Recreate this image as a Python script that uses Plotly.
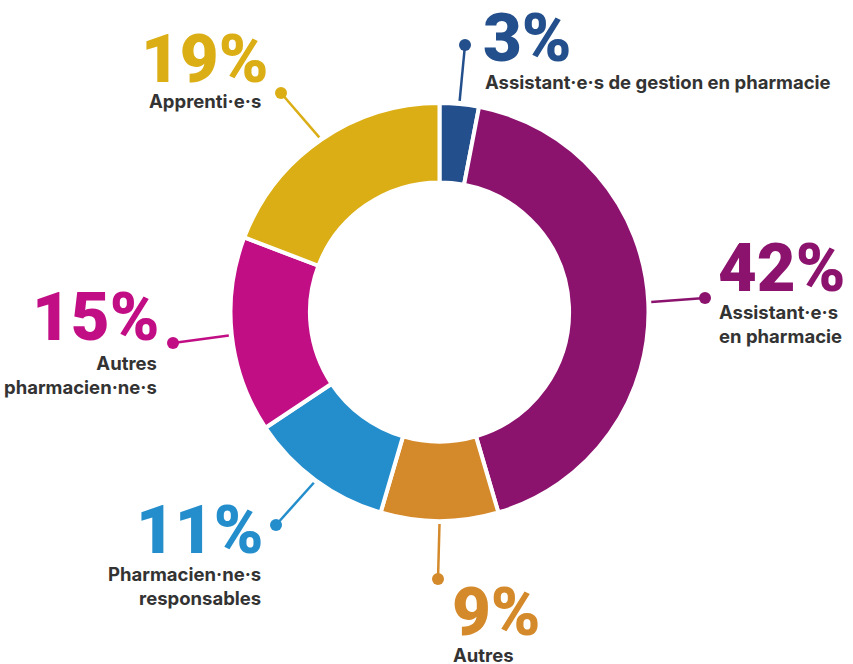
import math
import plotly.graph_objects as go

# data (clockwise from 12 o'clock)
categories = [
    "Assistant·e·s de gestion en pharmacie",
    "Assistant·e·s<br>en pharmacie",
    "Autres",
    "Pharmacien·ne·s<br>responsables",
    "Autres<br>pharmacien·ne·s",
    "Apprenti·e·s",
]
shares = [3, 42, 9, 11, 15, 19]
colors = ["#234F8C", "#8B136E", "#D4892A", "#248ECC", "#C10E84", "#DBAE15"]

W, H = 853, 664
CX, CY, R = 439.5, 312, 209

# label layout (pixels): dot end of leader line, percent text anchor, label anchor
label_layout = [
    dict(dot=(465, 45), pct=(481, 79, "left", "bottom"), lab=(483, 82, "left", "middle"), align="left"),
    dict(dot=(705, 298), pct=(716, 309, "left", "bottom"), lab=(717, 324, "left", "middle"), align="left"),
    dict(dot=(438, 579), pct=(450, 653, "left", "bottom"), lab=(451, 655, "left", "middle"), align="left"),
    dict(dot=(276, 525), pct=(265, 571, "right", "bottom"), lab=(263, 586, "right", "middle"), align="right"),
    dict(dot=(173, 343), pct=(161, 358, "right", "bottom"), lab=(159, 375, "right", "middle"), align="right"),
    dict(dot=(281, 93), pct=(270, 100, "right", "bottom"), lab=(263, 101, "right", "middle"), align="right"),
]


def px(x, y):
    return x / W, 1 - y / H


fig = go.Figure(go.Pie(
    values=shares,
    labels=categories,
    marker=dict(colors=colors, line=dict(color="white", width=4)),
    hole=0.62,
    sort=False,
    direction="clockwise",
    rotation=0,
    textinfo="none",
    hoverinfo="skip",
    showlegend=False,
    domain=dict(x=[(CX - R) / W, (CX + R) / W], y=[(H - CY - R) / H, (H - CY + R) / H]),
))

total = sum(shares)
cum = 0
shapes = []
annotations = []
for val, name, col, lay in zip(shares, categories, colors, label_layout):
    mid = (cum + val / 2) / total * 2 * math.pi
    cum += val
    sx = CX + (R + 3) * math.sin(mid)
    sy = CY - (R + 3) * math.cos(mid)
    dx, dy = lay["dot"]
    x0, y0 = px(sx, sy)
    x1, y1 = px(dx, dy)
    shapes.append(dict(type="line", xref="paper", yref="paper", x0=x0, y0=y0, x1=x1, y1=y1,
                       line=dict(color=col, width=2.5)))
    r = 6
    shapes.append(dict(type="circle", xref="paper", yref="paper",
                       x0=(dx - r) / W, x1=(dx + r) / W, y0=1 - (dy + r) / H, y1=1 - (dy - r) / H,
                       fillcolor=col, line=dict(width=0)))
    ppx, ppy, pxa, pya = lay["pct"]
    ax, ay = px(ppx, ppy)
    annotations.append(dict(text=f"{val}%", x=ax, y=ay, xref="paper", yref="paper",
                            xanchor=pxa, yanchor=pya, showarrow=False,
                            font=dict(family="Roboto", size=67, color=col, weight=900)))
    lx, ly, lxa, lya = lay["lab"]
    bx, by = px(lx, ly)
    annotations.append(dict(text=name, x=bx, y=by, xref="paper", yref="paper",
                            xanchor=lxa, yanchor=lya, align=lay["align"], showarrow=False,
                            font=dict(family="Inter", size=18.5, color="#333333", weight=700)))

fig.update_layout(
    width=W, height=H,
    margin=dict(l=0, r=0, t=0, b=0),
    paper_bgcolor="white", plot_bgcolor="white",
    shapes=shapes, annotations=annotations,
)

# the page body has a default 8px margin; drop it so the figure sits at 0,0
fig.write_html("out.html", config={"displayModeBar": False},
               post_script="document.body.style.margin='0px';")
